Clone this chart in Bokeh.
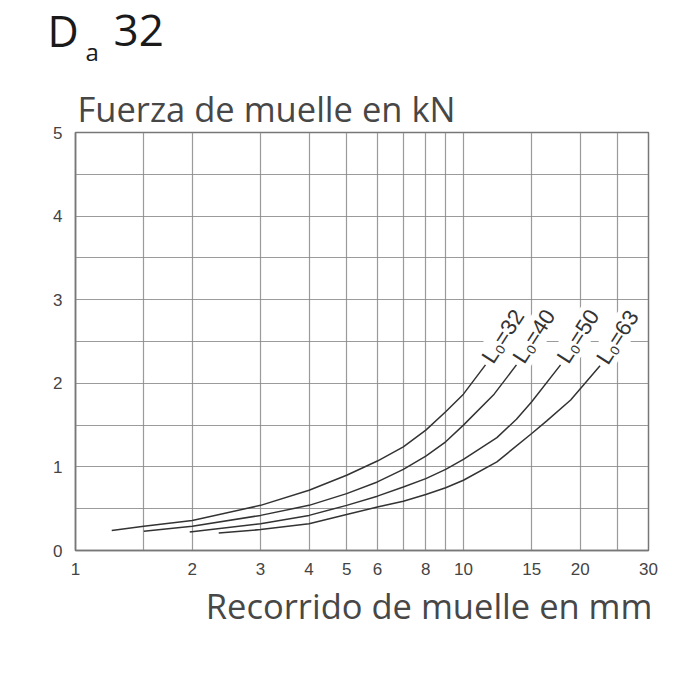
from bokeh.plotting import figure
from bokeh.models import FixedTicker, Range1d, Title
from bokeh.layouts import column
from bokeh.core.properties import value
from bokeh.embed import file_html
from bokeh.resources import INLINE

# ---- data ----
x_ticks = [1, 2, 3, 4, 5, 6, 8, 10, 15, 20, 30]
x_grid = [1.5, 2, 3, 4, 5, 6, 7, 8, 9, 10, 15, 20, 25]
y_ticks = [0, 1, 2, 3, 4, 5]
y_grid = [0.5, 1, 1.5, 2, 2.5, 3, 3.5, 4, 4.5]

l32_x = [1.24, 1.5, 2, 3, 4, 5, 6, 7, 8, 9, 10, 11.4]
l32_y = [0.24, 0.29, 0.36, 0.54, 0.72, 0.90, 1.07, 1.24, 1.44, 1.66, 1.87, 2.22]

l40_x = [1.5, 2, 3, 4, 5, 6, 7, 8, 9, 10, 12, 13.7]
l40_y = [0.23, 0.29, 0.42, 0.54, 0.68, 0.82, 0.97, 1.13, 1.30, 1.50, 1.87, 2.22]

l50_x = [1.97, 3, 4, 5, 6, 7, 8, 9, 10, 12.2, 13.7, 15, 17.8]
l50_y = [0.22, 0.32, 0.42, 0.54, 0.65, 0.76, 0.86, 0.97, 1.09, 1.35, 1.57, 1.78, 2.22]

l63_x = [2.34, 3, 4, 5, 6, 7, 8, 9, 10, 12.2, 15, 16.4, 18.9, 22.5]
l63_y = [0.21, 0.25, 0.32, 0.43, 0.52, 0.59, 0.67, 0.75, 0.84, 1.06, 1.40, 1.55, 1.80, 2.21]

curve_labels = ["L\u2080=32", "L\u2080=40", "L\u2080=50", "L\u2080=63"]

title_parts = ["D", "a", "32"]
y_title = "Fuerza de muelle en kN"
x_title = "Recorrido de muelle en mm"

W = 700


def blank_panel(h):
    f = figure(width=W, height=h, x_range=Range1d(0, W), y_range=Range1d(h, 0),
               output_backend="svg", toolbar_location=None, title=None,
               x_axis_location=None, y_axis_location=None,
               min_border=0, min_border_left=0, min_border_right=0,
               min_border_top=0, min_border_bottom=0)
    f.frame_align = False
    f.grid.visible = False
    f.outline_line_color = None
    f.background_fill_color = "white"
    f.border_fill_color = "white"
    return f


# ---- header (title) ----
head = blank_panel(80)
head.text(x=[47], y=[30], text=[title_parts[0]], text_font=value("Open Sans"),
          text_font_size="43px", text_color="#1a1a1a", text_baseline="alphabetic")
head.text(x=[85], y=[51], text=[title_parts[1]], text_font=value("Open Sans"),
          text_font_size="24px", text_color="#1a1a1a", text_baseline="alphabetic")
head.text(x=[113], y=[30], text=[title_parts[2]], text_font=value("Open Sans"),
          text_font_size="44px", text_color="#1a1a1a", text_baseline="alphabetic")

# ---- main chart ----
p = figure(width=W, height=502, x_axis_type="log", x_range=(1, 30), y_range=(0, 5),
           output_backend="svg", toolbar_location=None, title=None,
           min_border_left=75, min_border_right=52, min_border_top=52, min_border_bottom=32)
p.background_fill_color = "white"
p.border_fill_color = "white"
p.outline_line_color = "#777777"
p.outline_line_width = 1.5

p.add_layout(Title(text=y_title, align="left", offset=2, standoff=2,
                   text_font="Open Sans", text_font_size="34.5px",
                   text_font_style="normal", text_color="#474747"), "above")

p.xaxis.ticker = FixedTicker(ticks=x_ticks)
p.yaxis.ticker = FixedTicker(ticks=y_ticks)
p.xaxis.major_label_overrides = {t: str(t) for t in x_ticks}
p.xgrid.ticker = FixedTicker(ticks=x_grid)
p.ygrid.ticker = FixedTicker(ticks=y_grid)
for g in (p.xgrid, p.ygrid):
    g.grid_line_color = "#8a8a8a"
    g.grid_line_width = 1.2
    g.grid_line_alpha = 0.85

for ax in (p.xaxis, p.yaxis):
    ax.axis_line_color = "#777777"
    ax.axis_line_width = 1.5
    ax.major_tick_line_color = None
    ax.minor_tick_line_color = None
    ax.major_label_text_font = "Liberation Sans"
    ax.major_label_text_font_size = "17px"
    ax.major_label_text_color = "#444444"
p.xaxis.major_label_standoff = 6
p.yaxis.major_label_standoff = 7

curves = [(l32_x, l32_y), (l40_x, l40_y), (l50_x, l50_y), (l63_x, l63_y)]
for cx, cy in curves:
    p.line(cx, cy, line_color="#333333", line_width=1.5)

end_x = [c[0][-1] for c in curves]
end_y = [c[1][-1] for c in curves]
p.text(x=end_x, y=end_y, text=curve_labels, angle=1.0,
       text_font=value("Liberation Sans"), text_font_size="22px",
       text_color="#333333", text_align="left", text_baseline="alphabetic",
       x_offset=1, y_offset=-3,
       background_fill_color="white", padding=1)

# ---- footer (x-axis title) ----
foot = blank_panel(103)
foot.text(x=[652], y=[23], text=[x_title], text_font=value("Open Sans"),
          text_font_size="34.5px", text_color="#474747", text_align="right",
          text_baseline="alphabetic")

layout = column(head, p, foot, spacing=0)
open("out.html", "w").write(file_html(layout, INLINE))
